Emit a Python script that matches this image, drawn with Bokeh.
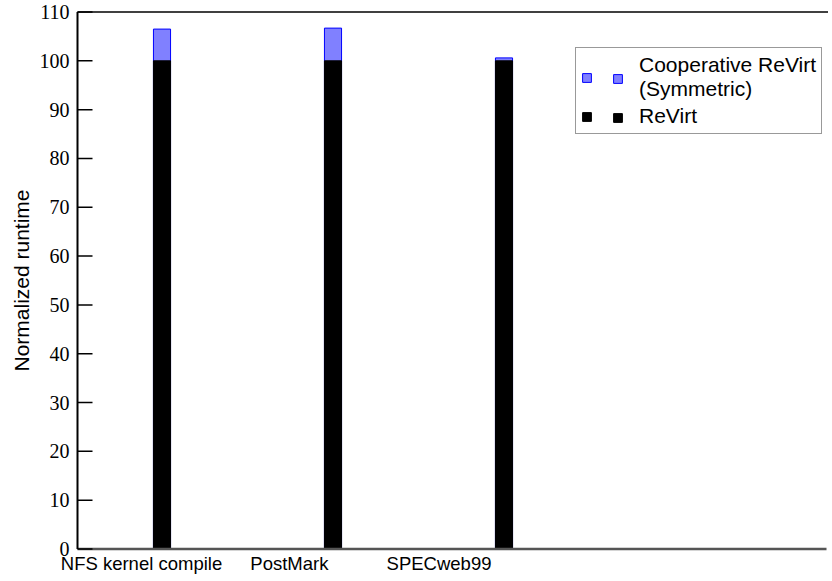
import math
from bokeh.plotting import figure
from bokeh.models import ColumnDataSource, Legend, LegendItem, Range1d
from bokeh.core.properties import value
from bokeh.embed import file_html
from bokeh.resources import INLINE

# ---- data ----
benchmarks = ["NFS kernel compile", "PostMark", "SPECweb99"]
revirt = [100, 100, 100]
coop_symmetric = [106.5, 106.7, 100.6]
label_pos = [-0.12, 0.745, 1.62]
y_ticks = [0, 10, 20, 30, 40, 50, 60, 70, 80, 90, 100, 110]
y_lo, y_hi = 0, 110
y_title = "Normalized runtime"

# ---- layout constants (pixels) ----
W, H = 828, 578
PX_PER_CAT = 171.0
BAR0_PX = 161.5
AXIS_PX = 77.0
TOP_PX, BOT_PX = 11.5, 548.5
TITLE_PX = 20.7
TICK_PX = 15.0

xc0 = -BAR0_PX / PX_PER_CAT
xc1 = xc0 + W / PX_PER_CAT
x_axis = xc0 + AXIS_PX / PX_PER_CAT
tick_len = TICK_PX / PX_PER_CAT
ppu = (BOT_PX - TOP_PX) / (y_hi - y_lo)
yc1 = y_hi + TOP_PX / ppu
yc0 = y_lo - (H - BOT_PX) / ppu

SERIF = "Liberation Serif"
SANS = "Liberation Sans"

xs = list(range(len(benchmarks)))
src = ColumnDataSource(dict(x=xs, revirt=revirt, coop=coop_symmetric))

p = figure(width=W, height=H, output_backend="svg", toolbar_location=None,
           x_range=Range1d(xc0, xc1), y_range=Range1d(yc0, yc1),
           x_axis_location=None, y_axis_location=None, min_border=0)
p.min_border_left = p.min_border_right = p.min_border_top = p.min_border_bottom = 0
p.outline_line_color = None
p.grid.visible = False
p.background_fill_color = "white"

coop_r = p.vbar(x="x", top="coop", bottom=0, width=0.1, source=src,
                fill_color="#8080ff", line_color="#0000ff", line_width=1)
rev_r = p.vbar(x="x", top="revirt", bottom=0, width=0.1, source=src,
               fill_color="black", line_color="black", line_width=1)

# frame: bottom (gray), top and left (black)
p.segment(x0=[x_axis], y0=[y_lo], x1=[xc1 - 2 / PX_PER_CAT], y1=[y_lo],
          line_color="#555555", line_width=2.5)
p.segment(x0=[x_axis], y0=[y_hi], x1=[xc1], y1=[y_hi], line_color="black",
          line_width=1.5)
p.segment(x0=[x_axis], y0=[y_lo], x1=[x_axis], y1=[y_hi], line_color="black",
          line_width=2)

# inner ticks on the y axis
n = len(y_ticks)
p.segment(x0=[x_axis] * n, y0=y_ticks, x1=[x_axis + tick_len] * n, y1=y_ticks,
          line_color="black", line_width=1.5)

# y tick labels (serif)
p.text(x=[x_axis] * n, y=y_ticks, text=[str(t) for t in y_ticks],
       text_align="right", text_baseline="middle", x_offset=-8,
       text_font=value(SERIF), text_font_size="20px", text_color="black")

# x category labels
p.text(x=label_pos, y=[y_lo] * len(label_pos), text=benchmarks,
       text_align="center", text_baseline="alphabetic", y_offset=14.5,
       text_font=value(SANS), text_font_size="18.5px", text_color="black")

# y axis title
p.text(x=[xc0 + TITLE_PX / PX_PER_CAT], y=[(y_lo + y_hi) / 2], text=[y_title],
       angle=math.pi / 2, text_align="center", text_baseline="middle",
       text_font=value(SANS), text_font_size="21px", text_color="black")

# legend: box with first swatch and text
items1 = [LegendItem(label="Cooperative ReVirt\n(Symmetric)", renderers=[coop_r]),
          LegendItem(label="ReVirt", renderers=[rev_r])]
leg1 = Legend(items=items1, location=(575, H - 134), glyph_width=11, glyph_height=11,
              label_standoff=47, padding=5, spacing=3, margin=0,
              label_text_font=SANS, label_text_font_size="21px",
              label_text_line_height=1.05, label_text_color="black",
              border_line_color="#333333", border_line_width=1.5,
              background_fill_color="white", background_fill_alpha=1)
# second swatch column
items2 = [LegendItem(label=".\n.", renderers=[coop_r]),
          LegendItem(label=".", renderers=[rev_r])]
leg2 = Legend(items=items2, location=(607, H - 134), glyph_width=11, glyph_height=11,
              label_standoff=2, padding=5, spacing=3, margin=0,
              label_text_font=SANS, label_text_font_size="21px",
              label_text_line_height=1.05, label_text_alpha=0,
              border_line_alpha=0, background_fill_alpha=0)
p.add_layout(leg1, "center")
p.add_layout(leg2, "center")

open("out.html", "w").write(file_html(p, INLINE))
